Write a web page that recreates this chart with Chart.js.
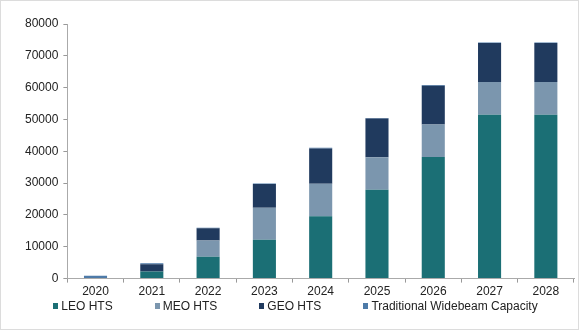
<!DOCTYPE html>
<html>
<head>
<meta charset="utf-8">
<script src="https://cdn.jsdelivr.net/npm/chart.js@4"></script>
<style>
  body { margin: 0; background: #fff; }
  #wrap { position: relative; width: 579px; height: 330px; box-sizing: border-box; border: 1px solid #dcdcdc; }
  #legend { position: absolute; left: 12px; right: 0; top: 298px; display: flex; justify-content: center; gap: 42px;
            font: 12px 'Liberation Sans', Arial, sans-serif; color: #222; }
  #legend span.item { display: flex; align-items: center; }
  #legend span.box { width: 5px; height: 6px; margin-right: 3px; display: inline-block; }
</style>
</head>
<body>
<div id="wrap"><canvas id="capacity_chart"></canvas><div id="legend"></div></div>
<script>
// capacity by satellite type, per year
const years = ["2020", "2021", "2022", "2023", "2024", "2025", "2026", "2027", "2028"]
const leo_hts = [0, 2200, 6900, 12200, 19600, 27900, 38200, 51500, 51500]
const meo_hts = [0, 0, 5100, 10100, 10200, 10200, 10200, 10300, 10300]
const geo_hts = [0, 2300, 3800, 7400, 11100, 12200, 12200, 12200, 12200]
const widebeam = [900, 300, 200, 200, 200, 200, 200, 200, 200]
const y_ticks = [0, 10000, 20000, 30000, 40000, 50000, 60000, 70000, 80000]

const series_names = ["LEO HTS", "MEO HTS", "GEO HTS", "Traditional Widebeam Capacity"]
const series_colors = ["#1b6f75", "#7b96ae", "#203a5e", "#4d7aa8"]
const series_values = [leo_hts, meo_hts, geo_hts, widebeam]

const datasets = series_values.map((vals, i) => ({
  label: series_names[i],
  data: vals,
  backgroundColor: series_colors[i],
  borderWidth: 0,
  categoryPercentage: 1.0,
  barPercentage: 0.41
}))

Chart.defaults.font.family = "'Liberation Sans', Arial, sans-serif"
Chart.defaults.font.size = 12
Chart.defaults.color = "#222"

const chart = new Chart(document.getElementById("capacity_chart"), {
  type: "bar",
  data: { labels: years, datasets: datasets },
  options: {
    responsive: true,
    maintainAspectRatio: false,
    animation: false,
    layout: { padding: { top: 23, right: 4, bottom: 28, left: 19 } },
    plugins: {
      tooltip: { enabled: false },
      legend: { display: false }
    },
    scales: {
      x: {
        stacked: true,
        grid: { display: true, drawOnChartArea: false, offset: true, tickLength: 4, color: "#999" },
        border: { color: "#aaa" },
        ticks: { padding: 2 }
      },
      y: {
        stacked: true,
        min: 0,
        max: 80000,
        afterBuildTicks: axis => { axis.ticks = y_ticks.map(v => ({ value: v })) },
        grid: { display: true, drawOnChartArea: false, tickLength: 4, color: "#999" },
        border: { color: "#aaa" },
        ticks: { padding: 5, callback: v => String(v) }
      }
    }
  }
})

// legend as html under the canvas, one line
const legend_el = document.getElementById("legend")
chart.data.datasets.forEach(ds => {
  const item = document.createElement("span")
  item.className = "item"
  const box = document.createElement("span")
  box.className = "box"
  box.style.background = ds.backgroundColor
  item.appendChild(box)
  item.appendChild(document.createTextNode(ds.label))
  legend_el.appendChild(item)
})
</script>
</body>
</html>
